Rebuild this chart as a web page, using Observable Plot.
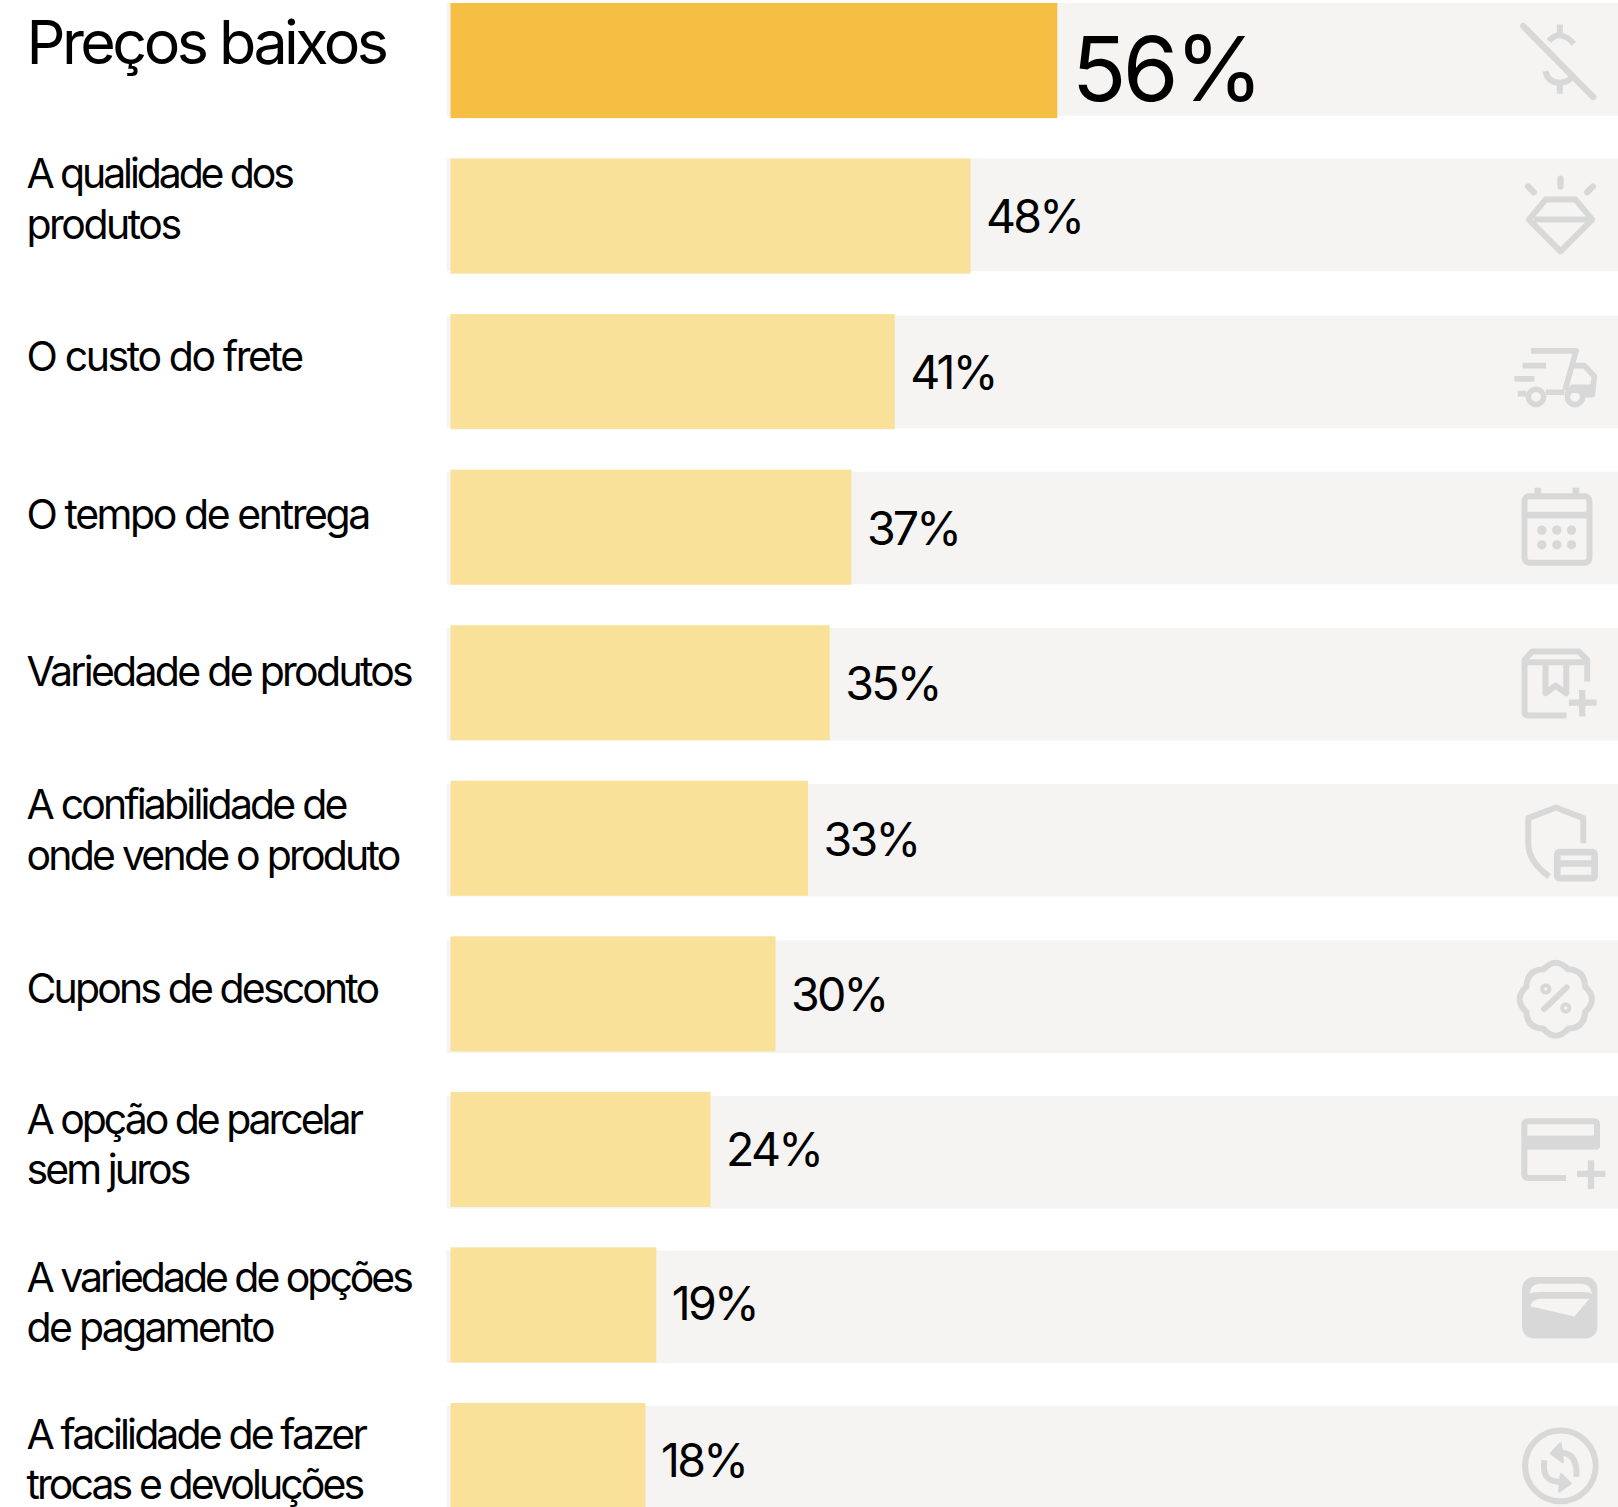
<!DOCTYPE html>
<html><head><meta charset="utf-8">
<script src="https://cdn.jsdelivr.net/npm/d3@7"></script>
<script src="https://cdn.jsdelivr.net/npm/@observablehq/plot@0.6"></script>
<style>
html,body{margin:0;padding:0;background:#fff}
.lab text{letter-spacing:-0.074em}
.title text{letter-spacing:-0.058em}
.val text{letter-spacing:-0.06em}
.bigval text{letter-spacing:-0.04em}
</style></head><body><div id="chart"></div>
<script>
const categories=["Preços baixos","A qualidade dos\nprodutos","O custo do frete","O tempo de entrega","Variedade de produtos","A confiabilidade de\nonde vende o produto","Cupons de desconto","A opção de parcelar\nsem juros","A variedade de opções\nde pagamento","A facilidade de fazer\ntrocas e devoluções"];
const values=[56,48,41,37,35,33,30,24,19,18];
const ranks=[0,1,2,3,4,5,6,7,8,9];
const trackShift=[0,0,0.01,0.013,0.017,0.02,0.026,0.026,0.02,0.02];
const labelShift=[0.113,-0.042,0.131,0.145,0.158,0.014,0.193,0.036,0.051,0.063];
const lineTracking=[[-0.076,-0.061],[-0.058],[-0.059],[-0.066],[-0.069,-0.068],[-0.07],[-0.074,-0.071],[-0.074,-0.066],[-0.07,-0.071]];
const valueShift=[0,1.5,2,2,2,2,2,1,0,1];
const iconXs=[102.4,102.4,101.8,102.0,102.25,102.5,101.9,102.6,102.3,102.3];
const iconRows=[0.0,0.985,2.035,2.99,4.0,5.028,6.03,7.03,8.0,8.973];
const G="#d8d8d8",B="#f5f4f3";
const sv=(vb,inner)=>"data:image/svg+xml;utf8,"+encodeURIComponent(`<svg xmlns="http://www.w3.org/2000/svg" viewBox="${vb} 330 330"><g fill="none" stroke="${G}" stroke-width="18" stroke-linejoin="round">${inner}</g></svg>`);
const icons=[
sv("135 15",`<path d="M188 75L398 288" stroke-width="19" stroke-linecap="round"/><path d="M298 70V98M265 120Q298 82 340 128M255 210Q262 245 298 245Q320 245 335 228M298 245V278"/>`),
sv("135 474",`<path d="M300 532V556M203 556L220 573M397 556L380 573" stroke-width="19" stroke-linecap="round"/><path d="M255 595H345L395 655L300 750L205 655ZM220 655H385"/>`),
sv("114 969",`<path d="M210 1054H345L312 1172" stroke-width="17"/><path d="M335 1098H370L400 1130L394 1185H365" stroke-width="17"/><path d="M330 1155H395V1180H310Z" fill="${G}" stroke="none"/><path d="M185 1098H255M160 1138H220M170 1182H195M255 1178H310" stroke-width="17"/><circle cx="225" cy="1192" r="23" stroke-width="17"/><circle cx="342" cy="1192" r="23" stroke-width="17"/>`),
sv("0 0",`<rect x="70" y="75" width="195" height="200" rx="15"/><path d="M72 132H262" stroke-width="20"/><path d="M110 50V72M224 50V72" stroke-width="20"/><g fill="${G}" stroke="none"><circle cx="122" cy="177" r="14"/><circle cx="167" cy="177" r="14"/><circle cx="211" cy="177" r="14"/><circle cx="122" cy="221" r="14"/><circle cx="167" cy="221" r="14"/><circle cx="211" cy="221" r="14"/></g>`),
sv("0 0",`<path d="M188 262H75Q62 262 62 250V95L85 70H225L250 95V160M62 102H250"/><path d="M125 105V195L155 172L187 195V105"/><path d="M235 185V265M195 223H278" stroke-width="19"/>`),
sv("0 0",`<path d="M128 265Q65 220 65 165V90L148 58L230 90V165" stroke-width="18"/><rect x="142" y="182" width="132" height="98" rx="16" fill="${G}" stroke="none"/><rect x="162" y="202" width="92" height="14" fill="${B}" stroke="none"/><rect x="162" y="236" width="92" height="24" fill="${B}" stroke="none"/>`),
sv("0 0",`<path d="M255 128Q253 78 204 76Q167 36 130 76Q81 78 79 128Q38 165 79 204Q81 252 130 254Q167 296 204 254Q253 252 255 204Q296 165 255 128Z" stroke-width="18"/><path d="M132 195L200 130" stroke-width="18" stroke-linecap="round"/><circle cx="137" cy="135" r="11" stroke-width="12"/><circle cx="197" cy="192" r="11" stroke-width="12"/>`),
sv("0 0",`<path d="M175 235H62Q50 235 50 222V75Q50 65 62 65H258Q268 65 268 75V145"/><rect x="50" y="108" width="222" height="42" fill="${G}" stroke="none"/><path d="M250 182V268M208 223H293" stroke-width="19"/>`),
sv("0 0",`<rect x="53" y="80" width="226" height="184" rx="35" fill="${G}" stroke="none"/><path d="M75 130Q80 100 105 100H232Q258 100 263 130Q255 125 232 125H105Q85 125 75 130Z" fill="${B}" stroke="none"/><path d="M78 165Q85 145 110 145H255L210 198L80 168Z" fill="${B}" stroke="none"/>`),
sv("0 0",`<circle cx="168" cy="192" r="106" stroke-width="18"/><path d="M170 152Q220 155 216 225M120 175Q110 240 165 240" stroke-width="18"/><path d="M168 125L140 155L175 180Z" fill="${G}" stroke-width="8"/><path d="M170 218L198 245L165 268Z" fill="${G}" stroke-width="8"/>`)
];
const rows=ranks.map(i=>({i,cat:categories[i],v:values[i],ts:trackShift[i],ls:labelShift[i],src:icons[i],ix:iconXs[i],ir:iconRows[i],vs:valueShift[i]}));
const font="Inter, sans-serif";
const chart=Plot.plot({
  width:1618,height:1507,margin:0,
  style:{background:"#fff",color:"#000"},
  x:{axis:null,domain:[0,100],range:[450.5,1534]},
  y:{axis:null,domain:[0,10],range:[3,1558.5]},
  marks:[
    Plot.rectX(rows,{x1:-0.37,x2:108,y1:d=>d.i+d.ts,y2:d=>d.i+d.ts+0.724,fill:B}),
    Plot.rectX(rows,{x1:0,x2:"v",y1:"i",y2:d=>d.i+0.74,fill:d=>d.i===0?"#f4bf42":"#f9e19a"}),
    Plot.image(rows,{x:"ix",y:d=>d.ir+0.37,src:"src",width:110,height:110}),
    Plot.text(rows.filter(d=>d.i>0),{className:"lab",frameAnchor:"left",dx:26,y:d=>d.i+d.ls,text:"cat",textAnchor:"start",lineAnchor:"top",fontSize:41,lineHeight:1.23,fontFamily:font,fill:"#000"}),
    Plot.text(rows.filter(d=>d.i===0),{className:"title",frameAnchor:"left",dx:26,y:d=>d.i+d.ls,text:"cat",textAnchor:"start",lineAnchor:"top",fontSize:61,fontFamily:font,fill:"#000"}),
    Plot.text(rows.filter(d=>d.i>0),{className:"val",x:"v",dx:15,dy:0,y:d=>d.i+0.37+d.vs/155.5,text:d=>d.v+"%",textAnchor:"start",fontSize:46.5,fontFamily:font,fill:"#000"}),
    Plot.text(rows.filter(d=>d.i===0),{className:"bigval",x:"v",dx:14,dy:11,y:d=>d.i+0.37,text:d=>d.v+"%",textAnchor:"start",fontSize:90,fontFamily:font,fill:"#000"})
  ]
});
chart.querySelectorAll(".lab text").forEach((t,k)=>{
  const spans=t.querySelectorAll("tspan");
  const tr=lineTracking[k];
  if(spans.length) spans.forEach((s,j)=>s.style.letterSpacing=tr[j]+"em");
  else t.style.letterSpacing=tr[0]+"em";
});
document.getElementById("chart").append(chart);
</script></body></html>
